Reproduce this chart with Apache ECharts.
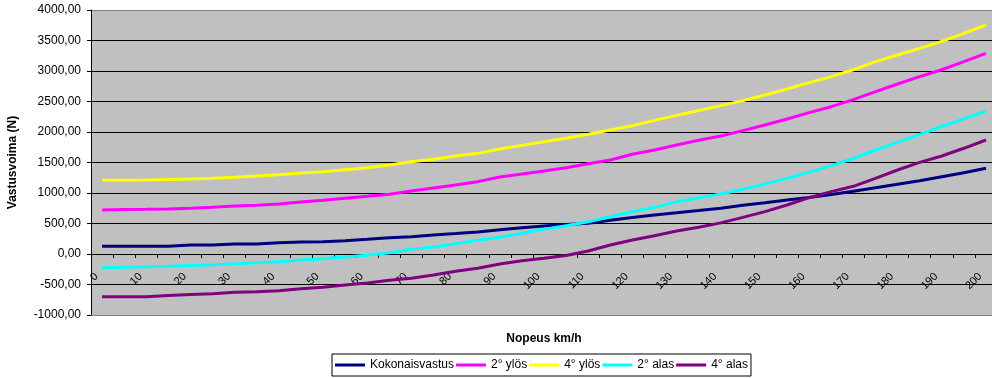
<!DOCTYPE html>
<html>
<head>
<meta charset="utf-8">
<script src="https://cdn.jsdelivr.net/npm/echarts@6/dist/echarts.min.js"></script>
<style>
  html, body { margin: 0; padding: 0; background: #fff; }
  #chart { width: 992px; height: 378px; }
</style>
</head>
<body>
<div id="chart"></div>
<script>
// Speed categories (km/h)
const speeds = ['0','5','10','15','20','25','30','35','40','45','50','55','60','65','70','75','80','85','90','95','100',
  '105','110','115','120','125','130','135','140','145','150','155','160','165','170','175','180','185','190','195','200'];

// Resistance force (N) per speed
const kokonaisvastus = [128,128,126,126,148,148,165,165,186,197,200,219,240,268,284,312,335,362,398,430,
  458,482,505,555,598,640,675,712,750,800,842,885,925,975,1030,1085,1145,1202,1268,1333,1405];
const ylos2 = [721,730,732,738,749,765,787,798,820,852,880,913,945,981,1033,1082,1131,1186,1262,1310,
  1360,1415,1481,1541,1634,1705,1787,1866,1934,2022,2115,2213,2317,2415,2530,2661,2787,2907,3020,3153,3290];
const ylos4 = [1208,1208,1213,1222,1230,1240,1257,1279,1301,1328,1350,1383,1415,1459,1514,1552,1607,1650,1721,1781,
  1841,1896,1962,2033,2104,2191,2273,2352,2432,2514,2607,2705,2809,2907,3020,3153,3262,3370,3485,3617,3754];
const alas2 = [-224,-219,-210,-202,-188,-175,-158,-142,-126,-98,-77,-49,-22,22,77,115,169,225,275,339,
  405,462,530,612,694,765,852,920,984,1060,1148,1240,1339,1448,1565,1705,1830,1962,2090,2215,2344];
const alas4 = [-700,-700,-700,-680,-663,-650,-628,-618,-601,-568,-546,-508,-475,-432,-399,-344,-284,-235,-164,-110,
  -70,-25,49,148,230,300,377,440,510,601,694,803,923,1022,1110,1240,1377,1503,1607,1733,1869];

const seriesNames = ['Kokonaisvastus', '2° ylös', '4° ylös', '2° alas', '4° alas'];
const seriesData = [kokonaisvastus, ylos2, ylos4, alas2, alas4];
const seriesColors = ['#000080', '#FF00FF', '#FFFF00', '#00FFFF', '#800080'];

// Gridline colours from -1000 up to 4000: outer frame grey, inner lines black
const gridColors = ['#808080','#000','#000','#000','#000','#000','#000','#000','#000','#000','#808080'];

const chart = echarts.init(document.getElementById('chart'), null, { renderer: 'canvas' });

// Plot area: 91..997 horizontally, 10..315 vertically; the zero line sits 61px above the bottom
const option = {
  animation: false,
  textStyle: { fontFamily: 'Liberation Sans, Arial, sans-serif', color: '#000' },
  grid: {
    left: 91, top: 10, right: -5, bottom: 63,
    containLabel: false,
    outerBoundsMode: 'none',
    show: true, backgroundColor: '#C0C0C0', borderWidth: 0
  },
  legend: {
    data: seriesNames,
    left: 332, top: 354,
    icon: 'rect', itemWidth: 30, itemHeight: 3, itemGap: 2,
    padding: [5, 3, 5, 3],
    borderColor: '#000', borderWidth: 1, backgroundColor: '#fff',
    textStyle: { fontSize: 12, color: '#000' }
  },
  xAxis: {
    type: 'category',
    data: speeds,
    boundaryGap: true,
    offset: -61,
    name: 'Nopeus km/h',
    nameLocation: 'middle',
    nameGap: 79,
    nameTextStyle: { fontWeight: 'bold', fontSize: 12, color: '#000' },
    axisLine: { onZero: false, lineStyle: { color: '#000', width: 1 } },
    axisTick: { show: true, interval: 0, length: 4, lineStyle: { color: '#000' } },
    axisLabel: { interval: 1, rotate: 45, fontSize: 11, color: '#000', margin: 15, padding: [0, 8, 0, 0] },
    splitLine: { show: false }
  },
  yAxis: {
    type: 'value',
    min: -1000, max: 4000, interval: 500,
    name: 'Vastusvoima (N)',
    nameLocation: 'middle',
    nameGap: 72,
    nameTextStyle: { fontWeight: 'bold', fontSize: 12, color: '#000' },
    axisLine: { show: true, lineStyle: { color: '#000', width: 1 } },
    axisTick: { show: true, length: 4, lineStyle: { color: '#000' } },
    axisLabel: {
      fontSize: 12, color: '#000', margin: 10,
      formatter: v => v.toFixed(2).replace('.', ',')
    },
    splitLine: { show: true, lineStyle: { color: gridColors, width: 1 } }
  },
  series: seriesNames.map((name, i) => ({
    name: name,
    type: 'line',
    data: seriesData[i],
    symbol: 'none',
    color: seriesColors[i],
    lineStyle: { color: seriesColors[i], width: 3 }
  }))
};

chart.setOption(option);
</script>
</body>
</html>
